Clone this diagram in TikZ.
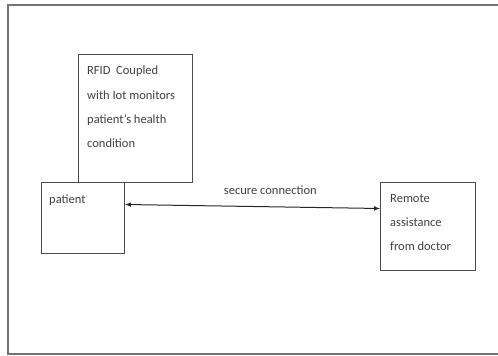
\documentclass[tikz,border=0pt]{standalone}
\usepackage{fontspec}
\setmainfont{Carlito}
\usetikzlibrary{arrows}

\begin{document}
\begin{tikzpicture}[x=1pt,y=1pt,
    box/.style={draw=black!70,line width=1pt,inner sep=0pt,anchor=north west},
    inbox/.style={anchor=north west,inner sep=0pt,align=left,text=black!75,
      font=\fontsize{12.5}{24.3}\selectfont},
    conn/.style={latex-latex,draw=black!85,line width=1pt}]
      \useasboundingbox (0,0) rectangle (498,356);
      \clip (0,0) rectangle (498,356);
      % outer frame
      \draw[black!55,line width=1.1pt] (8,2) rectangle (510,351);
      % boxes
      \node[box,minimum width=114pt,minimum height=128pt] (rfid) at (78,302) {};
      \node[box,minimum width=83pt,minimum height=71pt] (patient) at (41,174) {};
      \node[box,minimum width=95pt,minimum height=88pt] (remote) at (380,174) {};
      % texts
      \node[inbox] (rfidtext) at ([xshift=9pt,yshift=-12pt]rfid.north west)
        {RFID\ \ Coupled\\with Iot monitors\\patient’s health\\condition};
      \node[inbox] (patienttext) at ([xshift=8pt,yshift=-13pt]patient.north west) {patient};
      \node[inbox] (remotetext) at ([xshift=10pt,yshift=-12pt]remote.north west)
        {Remote\\assistance\\from doctor};
      % link
      \draw[conn] ([yshift=13.5pt]patient.east) -- node[pos=0.57,above=12pt,inner sep=0pt,
        text=black!75,font=\fontsize{12.5}{14}\selectfont] (link) {secure connection}
        ([yshift=18pt]remote.west);
\end{tikzpicture}
\end{document}
